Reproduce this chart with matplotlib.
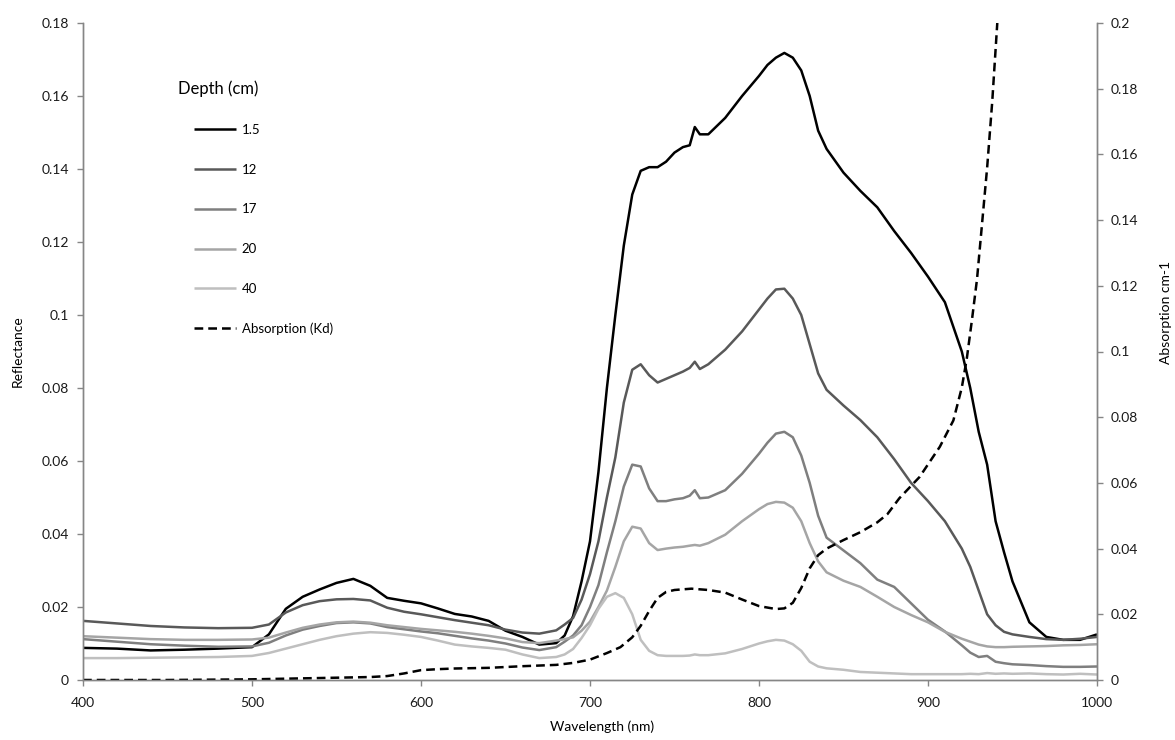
import matplotlib
matplotlib.use("Agg")
import matplotlib.pyplot as plt
import numpy as np
from matplotlib.ticker import FuncFormatter

plt.rcParams['font.family'] = ['Lato', 'DejaVu Sans']

# wavelength grid (nm) shared by the reflectance spectra
wl = [400, 420, 440, 460, 480, 500, 510, 520, 530, 540, 550, 560, 570, 580, 590,
      600, 610, 620, 630, 640, 650, 660, 670, 680, 685, 690, 695, 700, 705, 710,
      715, 720, 725, 730, 735, 740, 745, 750, 755, 759, 762, 765, 770, 780, 790,
      800, 805, 810, 815, 820, 825, 830, 835, 840, 850, 860, 870, 880, 890, 900,
      910, 920, 925, 930, 935, 940, 945, 950, 960, 970, 980, 990, 1000]

r_1_5 = [.0088, .0086, .0081, .0083, .0086, .0090, .0125, .0195, .0228, .0248, .0266, .0277, .0258, .0225, .0217,
         .0210, .0196, .0181, .0174, .0162, .0135, .0118, .0097, .0101, .0122, .0175, .027, .038, .057, .080,
         .100, .119, .133, .1395, .1405, .1405, .142, .1445, .146, .1465, .1515, .1495, .1495, .154, .160,
         .1655, .1685, .1705, .1718, .1705, .167, .160, .1505, .1455, .139, .134, .1295, .123, .117, .1105,
         .1035, .090, .080, .068, .059, .0435, .035, .027, .0158, .0118, .0110, .0110, .0125]

r_12 = [.0162, .0155, .0148, .0144, .0142, .0143, .0152, .0185, .0205, .0216, .0221, .0222, .0218, .0198, .0187,
        .0180, .0172, .0164, .0157, .0150, .0138, .0130, .0127, .0136, .0152, .0170, .0220, .0290, .0380, .0500,
        .0610, .0760, .0850, .0865, .0835, .0815, .0825, .0835, .0845, .0855, .0872, .0852, .0865, .0905, .0955,
        .1015, .1045, .1070, .1072, .1045, .1000, .0920, .0840, .0795, .0752, .0712, .0665, .0605, .0540, .0490,
        .0435, .0360, .0310, .0245, .0180, .0150, .0132, .0125, .0118, .0112, .0110, .0113, .0118]

r_17 = [.0112, .0105, .0098, .0094, .0091, .0092, .0102, .0122, .0138, .0148, .0156, .0158, .0155, .0145, .0139,
        .0133, .0128, .0121, .0114, .0108, .0100, .0089, .0082, .0090, .0105, .0122, .0150, .0200, .0260, .0350,
        .0435, .0530, .0590, .0585, .0525, .0490, .0490, .0495, .0498, .0505, .0520, .0498, .0500, .0520, .0565,
        .0620, .0650, .0675, .0680, .0665, .0615, .0540, .0450, .0390, .0355, .0320, .0275, .0255, .0210, .0165,
        .0133, .0095, .0075, .0063, .0066, .0050, .0046, .0043, .0041, .0038, .0036, .0036, .0037]

r_20 = [.0120, .0116, .0112, .0110, .0110, .0111, .0116, .0130, .0143, .0152, .0158, .0160, .0157, .0150, .0145,
        .0140, .0136, .0132, .0127, .0121, .0114, .0104, .0101, .0108, .0112, .0117, .0135, .0160, .0200, .0245,
        .0310, .0380, .0420, .0415, .0375, .0356, .0360, .0363, .0365, .0368, .0370, .0368, .0375, .0398, .0435,
        .0468, .0482, .0488, .0486, .0472, .0435, .0375, .0325, .0295, .0272, .0255, .0228, .0200, .0178, .0158,
        .0132, .0113, .0105, .0097, .0092, .0090, .0090, .0091, .0092, .0093, .0095, .0096, .0098]

r_40 = [.0060, .0060, .0061, .0062, .0063, .0066, .0074, .0086, .0098, .0110, .0120, .0127, .0131, .0129, .0124,
        .0118, .0108, .0097, .0092, .0088, .0083, .0070, .0060, .0063, .0070, .0085, .0115, .0150, .0195, .0228,
        .0238, .0225, .0180, .0110, .0080, .0068, .0066, .0066, .0066, .0067, .0070, .0068, .0068, .0073, .0085,
        .0100, .0106, .0110, .0108, .0098, .0080, .0050, .0037, .0032, .0028, .0022, .0020, .0018, .0016, .0016,
        .0016, .0016, .0017, .0016, .0019, .0017, .0018, .0017, .0018, .0016, .0015, .0017, .0015]

# absorption Kd (cm-1), right axis
abs_wl = [400, 450, 500, 520, 540, 560, 570, 580, 590, 600, 610, 620, 640, 660, 680, 690, 700, 710,
          718, 725, 730, 735, 740, 745, 750, 760, 770, 780, 790, 800, 810, 815, 820, 825, 830, 835,
          840, 850, 860, 870, 876, 883, 895, 907, 915, 920, 923, 926, 929, 932, 935, 938, 941]
abs_kd = [0, 0, .0002, .0004, .0006, .0008, .0009, .0012, .002, .003, .0033, .0035, .0037, .0042, .0046,
          .0052, .0062, .0082, .010, .013, .0165, .021, .025, .0268, .0274, .0278, .0274, .0266, .0245,
          .0225, .0216, .0218, .0235, .028, .034, .038, .040, .0426, .045, .048, .0505, .0553, .0618,
          .071, .079, .089, .098, .1096, .122, .139, .156, .176, .2]

depths = ['1.5', '12', '17', '20', '40']
series = [r_1_5, r_12, r_17, r_20, r_40]
colors = ['#000000', '#595959', '#7f7f7f', '#a5a5a5', '#bfbfbf']

spine_col = '#868686'
lw = 1.8

fig = plt.figure(figsize=(11.75, 7.4), dpi=100)
ax = fig.add_axes([83 / 1175, 60 / 740, 1014 / 1175, 657 / 740])
ax2 = ax.twinx()

handles = []
for name, vals, c in zip(depths, series, colors):
    h, = ax.plot(wl, vals, color=c, lw=lw, label=name, solid_capstyle='butt')
    handles.append(h)
h, = ax2.plot(abs_wl, abs_kd, color='black', lw=lw, dashes=(3.5, 2), label='Absorption (Kd)')
handles.append(h)

ax.set_xlim(400, 1000)
ax.set_ylim(0, 0.18)
ax2.set_ylim(0, 0.2)
ax.set_xticks(np.arange(400, 1001, 100))
ax.set_yticks(np.arange(0, 0.181, 0.02))
ax2.set_yticks(np.arange(0, 0.201, 0.02))

fmt = FuncFormatter(lambda v, p: '%g' % round(v, 4))
ax.yaxis.set_major_formatter(fmt)
ax2.yaxis.set_major_formatter(fmt)

for a in (ax, ax2):
    a.spines['top'].set_visible(False)
    for s in ('left', 'right', 'bottom'):
        a.spines[s].set_color(spine_col)
        a.spines[s].set_linewidth(1.0)
    a.tick_params(direction='out', length=4, width=1, color=spine_col,
                  labelsize=10, labelcolor='#1a1a1a')
ax.tick_params(axis='x', pad=8)
ax.tick_params(axis='y', pad=6)
ax2.tick_params(axis='y', pad=6)

ax.set_xlabel('Wavelength (nm)', fontsize=10)
ax.set_ylabel('Reflectance', fontsize=10)
ax2.set_ylabel('Absorption cm-1', fontsize=10)
ax.xaxis.set_label_coords(0.512, -0.062)
ax.yaxis.set_label_coords(-0.058, 0.5)
ax2.yaxis.set_label_coords(1.062, 0.56)

fig.text(178 / 1175, 1 - 89 / 740, 'Depth (cm)', fontsize=12, ha='left', va='center')
ax.legend(handles=handles, loc='upper left', frameon=False, fontsize=9.5,
          bbox_to_anchor=(194 / 1175, 1 - 124 / 740), bbox_transform=fig.transFigure,
          borderpad=0, borderaxespad=0, handlelength=3.2, handletextpad=0.4,
          labelspacing=2.1)

fig.savefig('out.png', dpi=100)
